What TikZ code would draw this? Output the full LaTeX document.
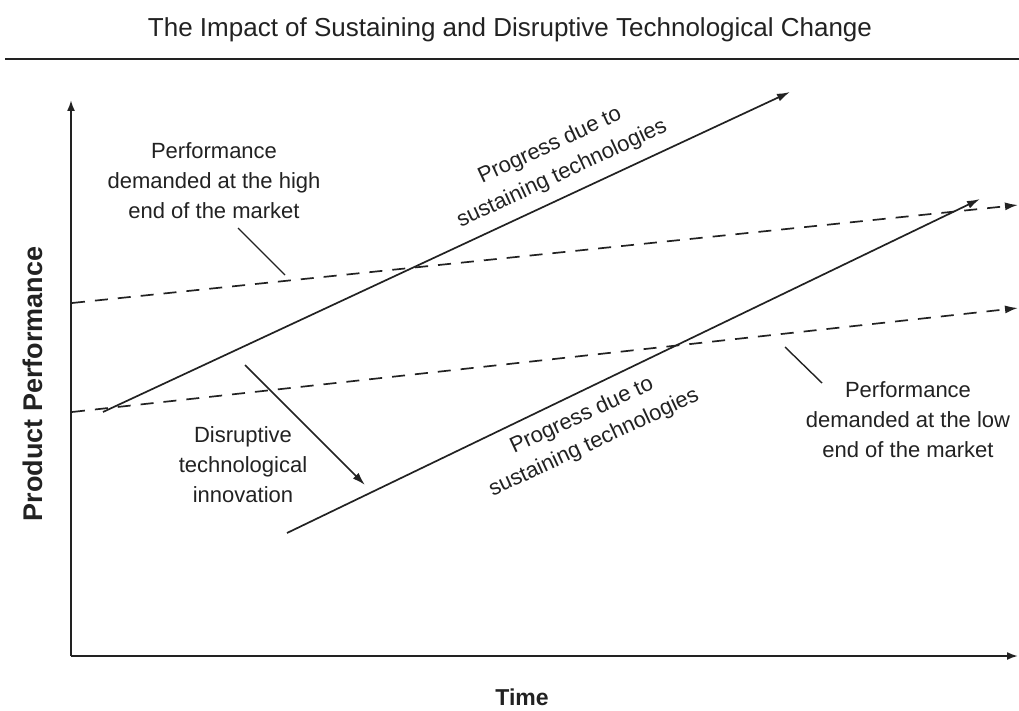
\documentclass[tikz,border=0pt]{standalone}
\usepackage{fontspec}
\setmainfont{Liberation Sans}
\usetikzlibrary{arrows.meta}
\definecolor{ink}{HTML}{222222}
\begin{document}
\begin{tikzpicture}[x=1pt,y=-1pt,
  lbl/.style={align=center, font=\fontsize{22}{30}\selectfont, text=ink, inner sep=0pt},
  slant/.style={font=\fontsize{22}{30}\selectfont, text=ink, inner sep=0pt, rotate=25},
  axis/.style={draw=ink, line width=1.9pt, -{Latex[length=11pt,width=8pt]}},
  trend/.style={draw=ink, line width=1.7pt, -{Latex[length=13pt,width=8pt]}},
  demand/.style={draw=ink, line width=1.7pt, dash pattern=on 13pt off 10pt, -{Latex[length=13pt,width=8pt]}},
  leader/.style={draw=ink, line width=1.4pt}]
\useasboundingbox[fill=white] (0,0) rectangle (1019,711);

% title and rule
\node[font=\fontsize{26}{30}\selectfont, text=ink, inner sep=0pt] (title) at (510,30)
  {The Impact of Sustaining and Disruptive Technological Change};
\coordinate (ruleL) at (5,59);
\coordinate (ruleR) at (1019,59);
\draw[ink, line width=2.2pt] (ruleL) -- (ruleR);

% axes
\coordinate (origin) at (71,656);
\coordinate (ytop) at (71,100);
\coordinate (xend) at (1018,656);
\draw[axis] (origin) -- (ytop);
\draw[axis] (origin) -- (xend);
\node[font=\fontsize{27}{30}\selectfont\bfseries, text=ink, rotate=90, inner sep=0pt] (ylab) at (33,384) {Product Performance};
\node[font=\fontsize{23}{28}\selectfont\bfseries, text=ink, inner sep=0pt] (xlab) at (522,697) {Time};

% performance demanded by the market (dashed)
\coordinate (hiS) at (72,303);
\coordinate (hiE) at (1018,205);
\coordinate (loS) at (72,412);
\coordinate (loE) at (1018,308);
\draw[demand] (hiS) -- (hiE);
\draw[demand] (loS) -- (loE);

% sustaining technology trajectories (solid)
\coordinate (incS) at (103,412);
\coordinate (incE) at (790,92);
\coordinate (entS) at (287,533);
\coordinate (entE) at (980,199);
\draw[trend] (incS) -- (incE);
\draw[trend] (entS) -- (entE);

% disruptive jump
\coordinate (disS) at (245,365);
\coordinate (disE) at (365,485);
\draw[trend] (disS) -- (disE);

% labels
\node[lbl] (hiLbl) at (214,181) {Performance\\demanded at the high\\end of the market};
\node[lbl] (loLbl) at (908,420) {Performance\\demanded at the low\\end of the market};
\node[lbl] (disLbl) at (243,465) {Disruptive\\technological\\innovation};
\node[slant] (incLbl1) at (550,146) {Progress due to};
\node[slant] (incLbl2) at (562,174) {sustaining technologies};
\node[slant] (entLbl1) at (582,416) {Progress due to};
\node[slant] (entLbl2) at (594,443) {sustaining technologies};

% leader lines
\coordinate (hiFoot) at (238,228);
\coordinate (hiTip) at (285,275);
\coordinate (loTip) at (785,347);
\coordinate (loFoot) at (822,383);
\draw[leader] (hiFoot) -- (hiTip);
\draw[leader] (loTip) -- (loFoot);
\end{tikzpicture}
\end{document}
